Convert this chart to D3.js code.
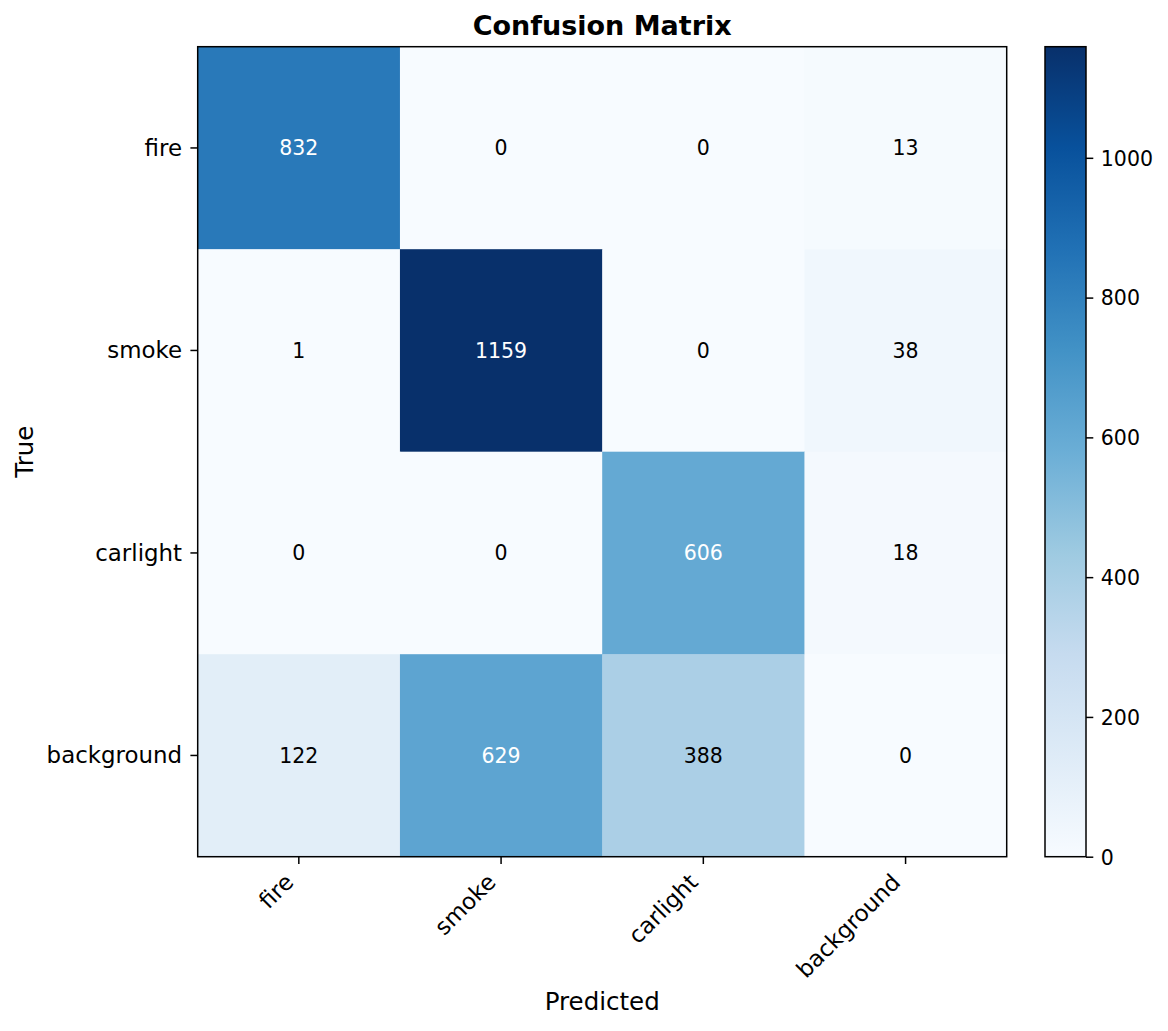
<!DOCTYPE html>
<html>
<head>
<meta charset="utf-8">
<script src="https://cdn.jsdelivr.net/npm/d3@7"></script>
<style>
  body { margin: 0; background: #fff; }
  svg { display: block; font-family: "DejaVu Sans", sans-serif; }
</style>
</head>
<body>
<div id="chart"></div>
<script>
// confusion matrix data, rows = true class, cols = predicted class
const classes = ["fire", "smoke", "carlight", "background"];
const counts = [
    [832, 0, 0, 13],
    [1, 1159, 0, 38],
    [0, 0, 606, 18],
    [122, 629, 388, 0]
];
const colorbarTicks = [0, 200, 400, 600, 800, 1000];

// matplotlib "Blues" colormap stops
const bluesStops = ["#f7fbff", "#deebf7", "#c6dbef", "#9ecae1", "#6baed6",
                    "#4292c6", "#2171b5", "#08519c", "#08306b"];

const width = 1168;
const height = 1031;
const plot = { x0: 197.7, y0: 46.7, x1: 1006.7, y1: 856.7 };
const cbar = { x0: 1045, x1: 1086 };
const tickLen = 7.3;
const lineW = 1.5;

const cells = [];
counts.forEach((row, i) => row.forEach((v, j) => cells.push({ t: classes[i], p: classes[j], v })));

const vmax = d3.max(cells, d => d.v);
const vmin = d3.min(cells, d => d.v);

const color = d3.scaleLinear()
    .domain(bluesStops.map((_, i) => vmin + (vmax - vmin) * i / (bluesStops.length - 1)))
    .range(bluesStops)
    .interpolate(d3.interpolateRgb);

const x = d3.scaleBand().domain(classes).range([plot.x0, plot.x1]).padding(0);
const y = d3.scaleBand().domain(classes).range([plot.y0, plot.y1]).padding(0);

const svg = d3.select("#chart").append("svg")
    .attr("width", width)
    .attr("height", height);

// heatmap cells
svg.append("g")
    .selectAll("rect")
    .data(cells)
    .join("rect")
    .attr("x", d => x(d.p))
    .attr("y", d => y(d.t))
    .attr("width", x.bandwidth() + 0.5)
    .attr("height", y.bandwidth() + 0.5)
    .attr("fill", d => color(d.v));

const thresh = vmax / 2;
svg.append("g")
    .selectAll("text")
    .data(cells)
    .join("text")
    .attr("x", d => x(d.p) + x.bandwidth() / 2)
    .attr("y", d => y(d.t) + y.bandwidth() / 2)
    .attr("text-anchor", "middle")
    .attr("dy", "0.36em")
    .attr("font-size", "20.5px")
    .attr("fill", d => d.v > thresh ? "#fff" : "#000")
    .text(d => d.v);

// frame
svg.append("rect")
    .attr("x", plot.x0).attr("y", plot.y0)
    .attr("width", plot.x1 - plot.x0).attr("height", plot.y1 - plot.y0)
    .attr("fill", "none").attr("stroke", "#000").attr("stroke-width", lineW);

// y axis
const yAxis = svg.append("g")
    .attr("transform", `translate(${plot.x0},0)`)
    .call(d3.axisLeft(y).tickSize(tickLen).tickSizeOuter(0).tickPadding(8.4));
yAxis.select(".domain").remove();
yAxis.selectAll(".tick line").attr("stroke", "#000").attr("stroke-width", lineW);
yAxis.selectAll(".tick text")
    .attr("font-size", "22.9px")
    .attr("font-family", "DejaVu Sans")
    .attr("fill", "#000")
    .attr("dy", "0.34em");

// x axis with rotated labels (matplotlib rotation=45, ha=right)
const xAxis = svg.append("g")
    .attr("transform", `translate(0,${plot.y1})`)
    .call(d3.axisBottom(x).tickSize(tickLen).tickSizeOuter(0));
xAxis.select(".domain").remove();
xAxis.selectAll(".tick line").attr("stroke", "#000").attr("stroke-width", lineW);
const fsx = 22.9;
const asc = 0.76 * fsx, desc = 0.24 * fsx;
xAxis.selectAll(".tick text")
    .attr("font-size", fsx + "px")
    .attr("font-family", "DejaVu Sans")
    .attr("fill", "#000")
    .attr("text-anchor", "end")
    .attr("y", null).attr("dy", null)
    .attr("transform", `translate(${-desc / Math.SQRT2},${tickLen + 7.3 + asc / Math.SQRT2}) rotate(-45)`);

// title and axis labels
const cx = (plot.x0 + plot.x1) / 2;
svg.append("text")
    .attr("x", cx).attr("y", 35)
    .attr("text-anchor", "middle")
    .attr("font-size", "27px")
    .attr("font-weight", "bold")
    .text("Confusion Matrix");

svg.append("text")
    .attr("x", cx).attr("y", 1010)
    .attr("text-anchor", "middle")
    .attr("font-size", "24.5px")
    .text("Predicted");

svg.append("text")
    .attr("transform", `translate(33,${(plot.y0 + plot.y1) / 2}) rotate(-90)`)
    .attr("text-anchor", "middle")
    .attr("font-size", "24.5px")
    .text("True");

// colorbar
const grad = svg.append("defs").append("linearGradient")
    .attr("id", "cbgrad")
    .attr("x1", 0).attr("y1", 1).attr("x2", 0).attr("y2", 0);
grad.selectAll("stop")
    .data(bluesStops)
    .join("stop")
    .attr("offset", (d, i) => i / (bluesStops.length - 1))
    .attr("stop-color", d => d);

svg.append("rect")
    .attr("x", cbar.x0).attr("y", plot.y0)
    .attr("width", cbar.x1 - cbar.x0).attr("height", plot.y1 - plot.y0)
    .attr("fill", "url(#cbgrad)")
    .attr("stroke", "#000").attr("stroke-width", lineW);

const cy = d3.scaleLinear().domain([vmin, vmax]).range([plot.y1, plot.y0]);
const cAxis = svg.append("g")
    .attr("transform", `translate(${cbar.x1},0)`)
    .call(d3.axisRight(cy).tickValues(colorbarTicks).tickFormat(d3.format("d"))
        .tickSize(tickLen).tickSizeOuter(0).tickPadding(7.5));
cAxis.select(".domain").remove();
cAxis.selectAll(".tick line").attr("stroke", "#000").attr("stroke-width", lineW);
cAxis.selectAll(".tick text")
    .attr("font-size", "20.5px")
    .attr("font-family", "DejaVu Sans")
    .attr("fill", "#000")
    .attr("dy", "0.36em");
</script>
</body>
</html>
